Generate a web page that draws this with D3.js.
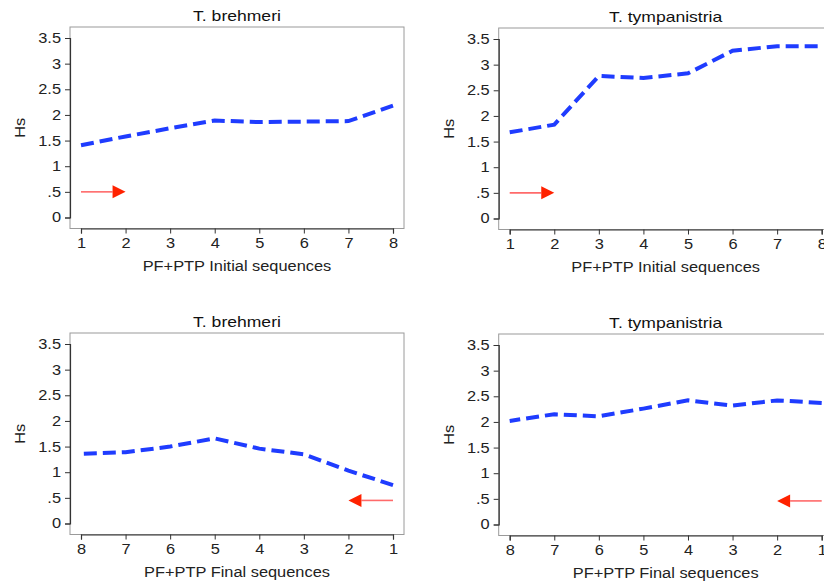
<!DOCTYPE html>
<html><head><meta charset="utf-8">
<script src="https://cdn.jsdelivr.net/npm/d3@7"></script>
<style>body{margin:0;background:#fff;font-family:"Liberation Sans",Arial,Helvetica,sans-serif}</style>
</head><body><svg id="c" width="824" height="584"></svg>
<script>
const seqs = [1,2,3,4,5,6,7,8];
const yTicks = [0,0.5,1,1.5,2,2.5,3,3.5];
const yTickLabels = ["0",".5","1","1.5","2","2.5","3","3.5"];
const titles = ["T. brehmeri","T. tympanistria","T. brehmeri","T. tympanistria"];
const xTitles = ["PF+PTP Initial sequences","PF+PTP Initial sequences","PF+PTP Final sequences","PF+PTP Final sequences"];
// values indexed by sequence number 1..8
const brehmeriInitial = [1.41,1.58,1.74,1.89,1.86,1.87,1.88,2.18];
const tympInitial = [1.68,1.83,2.78,2.74,2.83,3.27,3.36,3.36];
const brehmeriFinal = [0.75,1.03,1.35,1.46,1.66,1.50,1.39,1.36];
const tympFinal = [2.37,2.42,2.32,2.42,2.26,2.11,2.15,2.02];
const arrowY = [0.5,0.5,0.45,0.46];

const svg = d3.select("#c");
const panels = [
  {vals:brehmeriInitial, fx:70, fy:27, rev:false},
  {vals:tympInitial, fx:498.7, fy:28, rev:false},
  {vals:brehmeriFinal, fx:70, fy:333, rev:true},
  {vals:tympFinal, fx:498.7, fy:334, rev:true}
];
const FW=334, FH=201.5, PAD=11;
const FONT="'Liberation Sans',Arial,Helvetica,sans-serif";
const STRETCH=1.17;
function txt(sel,size){
  sel.style("font-family",FONT).style("font-size",size+"px");
  sel.each(function(){
    const L=this.getComputedTextLength();
    this.setAttribute("textLength",(L*STRETCH).toFixed(2));
    this.setAttribute("lengthAdjust","spacingAndGlyphs");
  });
  return sel;
}

panels.forEach((p,i)=>{
  const g = svg.append("g");
  const x = d3.scaleLinear().domain(p.rev?[8,1]:[1,8]).range([p.fx+PAD, p.fx+FW-PAD]);
  const y = d3.scaleLinear().domain([0,3.5]).range([p.fy+FH-PAD, p.fy+PAD]);
  g.append("rect").attr("x",p.fx).attr("y",p.fy).attr("width",FW).attr("height",FH)
    .attr("fill","none").attr("stroke","#9a9a9a").attr("stroke-width",1);
  const ya = g.append("g").attr("transform",`translate(${p.fx},0)`)
    .call(d3.axisLeft(y).tickValues(yTicks).tickFormat((d,j)=>yTickLabels[j]).tickSize(5).tickPadding(4));
  const xa = g.append("g").attr("transform",`translate(0,${p.fy+FH})`)
    .call(d3.axisBottom(x).tickValues(seqs).tickFormat(d3.format("d")).tickSize(5).tickPadding(5));
  [ya,xa].forEach(a=>{
    a.attr("font-size",null).attr("font-family",null);
    a.select(".domain").attr("stroke","#333").attr("stroke-width",1.2);
    a.selectAll(".tick line").attr("stroke","#333");
    txt(a.selectAll(".tick text").attr("fill","#222"),14);
  });
  txt(g.append("text").attr("x",p.fx+FW/2).attr("y",p.fy-6).attr("text-anchor","middle")
    .attr("fill","#111").text(titles[i]),15);
  txt(g.append("text").attr("x",p.fx+FW/2).attr("y",p.fy+FH+42).attr("text-anchor","middle")
    .attr("fill","#222").text(xTitles[i]),14);
  txt(g.append("text").attr("transform",`translate(${p.fx-45},${p.fy+FH/2}) rotate(-90)`)
    .attr("text-anchor","middle").attr("fill","#222").text("Hs"),14);
  const line = d3.line().x((d,j)=>x(seqs[j])).y(d=>y(d));
  g.append("path").datum(p.vals).attr("d",line).attr("fill","none")
    .attr("stroke","#1f3cff").attr("stroke-width",4).attr("stroke-dasharray","13,6");
  const ay = y(arrowY[i]);
  const x1 = x(1), x2 = x(2);
  const dir = Math.sign(x2-x1);
  const headL = 13, headH = 6.5;
  g.append("line").attr("x1",x1).attr("y1",ay).attr("x2",x2-dir*headL).attr("y2",ay)
    .attr("stroke","#ff6a6a").attr("stroke-width",1.6);
  g.append("path").attr("d",`M${x2},${ay} L${x2-dir*headL},${ay-headH} L${x2-dir*headL},${ay+headH} Z`)
    .attr("fill","#ff2200");
});
</script></body></html>
